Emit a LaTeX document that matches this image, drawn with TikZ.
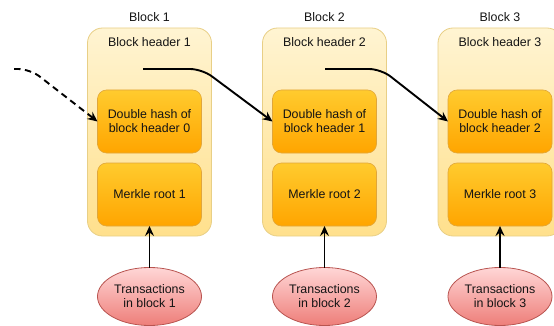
\documentclass[tikz,border=0pt]{standalone}
\usepackage{fontspec}
\setmainfont{Liberation Sans}
\usetikzlibrary{arrows.meta,shapes.geometric}

\definecolor{blockTop}{HTML}{FFF4D2}
\definecolor{blockBot}{HTML}{FFE08C}
\definecolor{blockLine}{HTML}{E8CF86}
\definecolor{fieldTop}{HTML}{FFCB2E}
\definecolor{fieldBot}{HTML}{FFA500}
\definecolor{fieldLine}{HTML}{E0A63A}
\definecolor{txTop}{HTML}{FFD6D6}
\definecolor{txBot}{HTML}{EE7E79}
\definecolor{txLine}{HTML}{B85450}
\definecolor{textDark}{HTML}{141414}

\begin{document}
\begin{tikzpicture}[x=1pt,y=-1pt,
  every node/.style={font=\fontsize{12.4}{14}\selectfont, text=textDark},
  blockbox/.style={draw=blockLine, line width=0.8pt, rounded corners=15pt,
    top color=blockTop, bottom color=blockBot,
    minimum width=124pt, minimum height=208pt, inner sep=0pt, outer sep=0pt},
  fieldbox/.style={draw=fieldLine, line width=0.6pt, rounded corners=9pt,
    top color=fieldTop, bottom color=fieldBot, align=center,
    minimum width=104pt, minimum height=63pt, inner sep=0pt, outer sep=0pt},
  txnode/.style={ellipse, draw=txLine, line width=0.8pt,
    top color=txTop, bottom color=txBot, align=center,
    minimum width=104pt, minimum height=58pt, inner sep=0pt, outer sep=0pt},
  link/.style={line width=1.9pt, -{Stealth[length=10pt,width=9pt,inset=3.5pt]}, rounded corners=12pt},
  feed/.style={line width=1.9pt, -{Stealth[length=10pt,width=9pt,inset=3.5pt]}}
]
\useasboundingbox (0,0) rectangle (554,326);
\clip (0,0) rectangle (554,326);

% three blocks, each with a header hash field and a Merkle root field
\foreach \i/\x in {1/149.5, 2/324.5, 3/500} {
  \node[blockbox] (blk\i) at (\x,132) {};
  \node (title\i) at (\x,17) {Block \i};
  \node (head\i) at (\x,42) {Block header \i};
  \node[fieldbox] (prev\i) at (\x,121.5) {};
  \node[fieldbox] (root\i) at (\x,194.5) {Merkle root \i};
  \node[txnode] (tx\i) at (\x,296.5) {Transactions\\in block \i};
  \draw[feed] (tx\i) -- (root\i);
}
\node[align=center] (prevtext1) at (prev1) {Double hash of\\block header 0};
\node[align=center] (prevtext2) at (prev2) {Double hash of\\block header 1};
\node[align=center] (prevtext3) at (prev3) {Double hash of\\block header 2};

% hash links from one header to the next block
\coordinate (src0) at (14,69);
\coordinate (src1) at (143,69);
\coordinate (src2) at (325,69);
\draw[link, dashed, dash pattern=on 6.5pt off 4.5pt] (src0) -- (30,69) -- (prev1.west);
\draw[link] (src1) -- (202,69) -- (prev2.west);
\draw[link] (src2) -- (381,69) -- (prev3.west);
\end{tikzpicture}
\end{document}
